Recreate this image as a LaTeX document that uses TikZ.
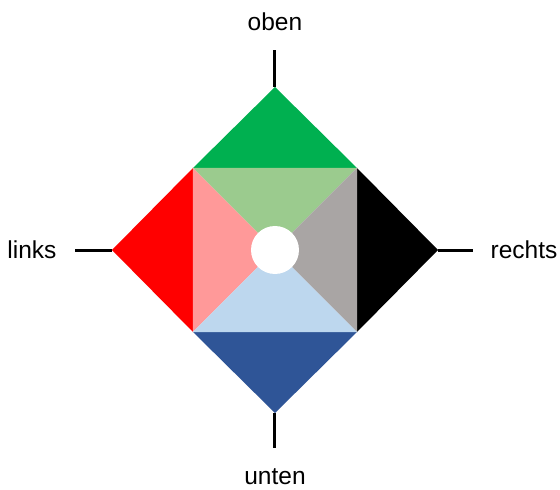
\documentclass[tikz,border=0pt]{standalone}
\usepackage{fontspec}
\setmainfont{Liberation Sans}
\definecolor{obengruen}{HTML}{00B050}
\definecolor{hellgruen}{HTML}{9BCB8E}
\definecolor{linksrot}{HTML}{FF0000}
\definecolor{hellrot}{HTML}{FF9999}
\definecolor{rechtsgrau}{HTML}{A9A5A4}
\definecolor{untenblau}{HTML}{2F5597}
\definecolor{hellblau}{HTML}{BDD7EE}
\begin{document}
\begin{tikzpicture}[x=1pt,y=1pt]
			\useasboundingbox (-275,-240) rectangle (285,250);
			\tikzset{achse/.style={line width=3pt},beschriftung/.style={font=\fontsize{24.5}{28}\selectfont,inner sep=2pt}}

			% Ecken der Raute und des Quadrats
			\coordinate (O) at (0,163);
			\coordinate (U) at (0,-163);
			\coordinate (L) at (-163,0);
			\coordinate (R) at (163,0);
			\coordinate (OL) at (-82,82);
			\coordinate (OR) at (82,82);
			\coordinate (UL) at (-82,-82);
			\coordinate (UR) at (82,-82);
			\coordinate (M) at (0,0);

			\fill[obengruen] (O) -- (OR) -- (OL) -- cycle;
			\fill[linksrot] (L) -- (OL) -- (UL) -- cycle;
			\fill[black] (R) -- (OR) -- (UR) -- cycle;
			\fill[untenblau] (U) -- (UL) -- (UR) -- cycle;

			\fill[hellgruen] (M) -- (OL) -- (OR) -- cycle;
			\fill[hellrot] (M) -- (OL) -- (UL) -- cycle;
			\fill[rechtsgrau] (M) -- (OR) -- (UR) -- cycle;
			\fill[hellblau] (M) -- (UL) -- (UR) -- cycle;
			\fill[white] (M) circle (24);

			\node[beschriftung] (oben) at (0,228) {oben};
			\node[beschriftung] (unten) at (0,-227) {unten};
			\node[beschriftung] (links) at (-243,0) {links};
			\node[beschriftung] (rechts) at (249,0) {rechts};

			\draw[achse] (O) -- (0,200);
			\draw[achse] (U) -- (0,-198);
			\draw[achse] (L) -- (-200,0);
			\draw[achse] (R) -- (198,0);
		\end{tikzpicture}
\end{document}
